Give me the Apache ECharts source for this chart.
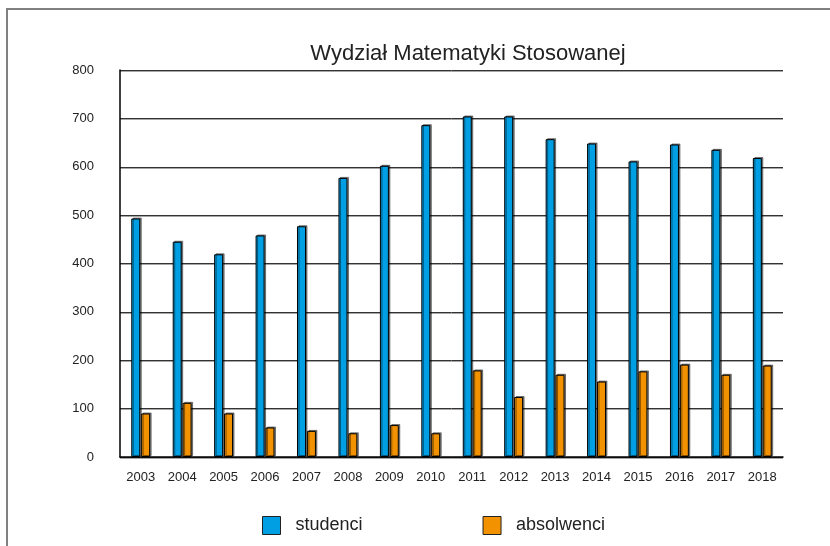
<!DOCTYPE html>
<html>
<head>
<meta charset="utf-8">
<script src="https://cdn.jsdelivr.net/npm/echarts@6/dist/echarts.min.js"></script>
<style>
  html, body { margin: 0; padding: 0; background: #fff; }
  #chart { width: 830px; height: 546px; }
</style>
</head>
<body>
<div id="chart"></div>
<script>
const titleText = 'Wydział Matematyki Stosowanej';
const years = ['2003','2004','2005','2006','2007','2008','2009','2010','2011','2012','2013','2014','2015','2016','2017','2018'];
const studenci = [493, 445, 419, 458, 477, 577, 602, 686, 704, 704, 657, 648, 611, 646, 635, 618];
const absolwenci = [90, 112, 90, 61, 54, 49, 66, 49, 179, 124, 170, 156, 177, 191, 170, 189];
const seriesNames = ['studenci', 'absolwenci'];

const chart = echarts.init(document.getElementById('chart'), null, { renderer: 'canvas' });
const font = 'Liberation Sans, Arial, sans-serif';
const barShadow = { shadowColor: 'rgba(0,0,0,0.45)', shadowOffsetX: 1.5, shadowOffsetY: -1, shadowBlur: 0 };

chart.setOption({
  backgroundColor: '#fff',
  animation: false,
  title: {
    text: titleText,
    left: 463,
    textAlign: 'center',
    top: 38,
    textStyle: { fontFamily: font, fontSize: 22, fontWeight: 'normal', color: '#222' }
  },
  graphic: [
    { type: 'line', shape: { x1: 6, y1: 9, x2: 830, y2: 9 }, style: { stroke: '#808080', lineWidth: 2 } },
    { type: 'line', shape: { x1: 7, y1: 8, x2: 7, y2: 546 }, style: { stroke: '#808080', lineWidth: 2 } }
  ],
  legend: {
    data: seriesNames,
    left: 257,
    top: 511,
    itemWidth: 18,
    itemHeight: 18,
    itemGap: 120,
    icon: 'rect',
    itemStyle: { borderWidth: 1, borderColor: '#222' },
    textStyle: { fontFamily: font, fontSize: 18, color: '#222', padding: [0, 0, 0, 10] }
  },
  grid: { left: 120, right: 47, top: 70, bottom: 89 },
  xAxis: {
    type: 'category',
    data: years,
    axisLine: { lineStyle: { color: '#000', width: 1.5 } },
    axisTick: { inside: true, length: 10, lineStyle: { color: '#000' } },
    axisLabel: { fontFamily: font, fontSize: 13, color: '#222', margin: 14 }
  },
  yAxis: {
    type: 'value',
    min: 0,
    max: 800,
    interval: 100,
    axisLine: { show: true, lineStyle: { color: '#000', width: 1.5 } },
    axisTick: { show: false },
    axisLabel: { fontFamily: font, fontSize: 13, color: '#222', margin: 26 },
    splitLine: { lineStyle: { color: '#333', width: 1, shadowColor: 'rgba(0,0,0,0.35)', shadowOffsetY: 1, shadowBlur: 0 } }
  },
  series: [
    {
      name: seriesNames[0],
      type: 'bar',
      data: studenci,
      barWidth: 9,
      barGap: '10%',
      itemStyle: Object.assign({ color: '#009FE3', borderColor: '#000', borderWidth: 1 }, barShadow)
    },
    {
      name: seriesNames[1],
      type: 'bar',
      data: absolwenci,
      barWidth: 9,
      barGap: '10%',
      itemStyle: Object.assign({ color: '#F39200', borderColor: '#000', borderWidth: 1 }, barShadow)
    }
  ]
});
</script>
</body>
</html>
